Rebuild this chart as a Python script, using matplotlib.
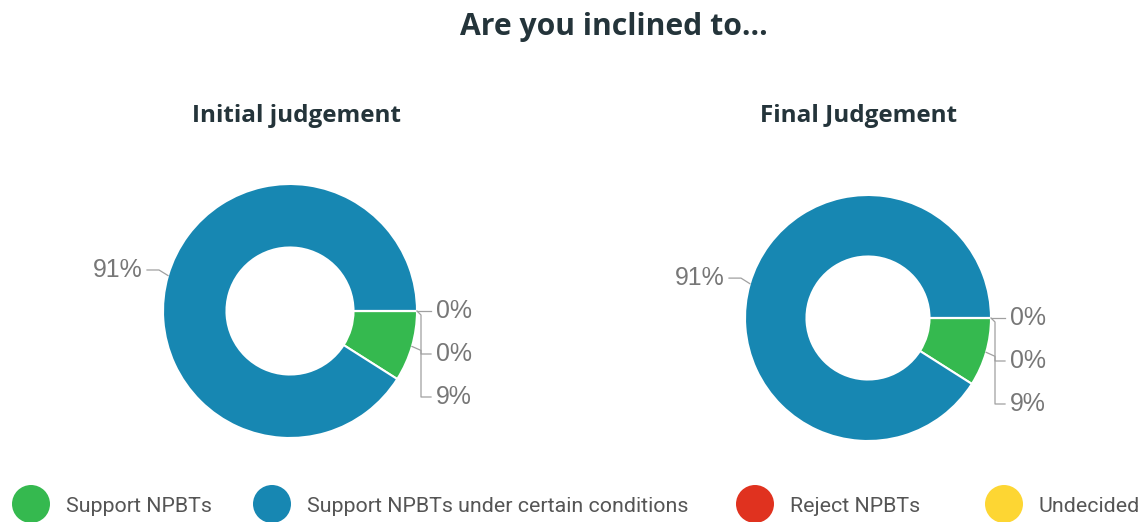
import matplotlib
matplotlib.use("Agg")
import matplotlib.pyplot as plt
from matplotlib.patches import Circle
import numpy as np

# ---- data ----
title = "Are you inclined to..."
categories = ["Support NPBTs", "Support NPBTs under certain conditions", "Reject NPBTs", "Undecided"]
colors = ["#35b94f", "#1787b2", "#e0321f", "#fdd633"]
chart_titles = ["Initial judgement", "Final Judgement"]
initial_values = [9, 91, 0, 0]
final_values = [9, 91, 0, 0]
series = [initial_values, final_values]

# ---- layout (pixel space) ----
W, H = 1140, 522
fig = plt.figure(figsize=(W / 100, H / 100), dpi=100)
ax = fig.add_axes([0, 0, 1, 1])
renderer = fig.canvas.get_renderer()

def Y(py):
    return H - py

def fit(t, target_w):
    bb = t.get_window_extent(renderer=renderer)
    t.set_fontsize(t.get_fontsize() * target_w / bb.width)
    return t.get_fontsize()

centers = [(290, 311), (868, 318)]
radii = [127, 123]
subtitle_x = [297, 859]
title_font = "Open Sans"
label_font = "Liberation Sans"
legend_font = "Roboto"
txt_dark = "#24343a"
lbl_color = "#777777"
line_color = "#a0a0a0"

for vals, (cx, cy), r in zip(series, centers, radii):
    ax.pie(vals, colors=colors, startangle=0, counterclock=False,
           center=(cx, Y(cy)), radius=r,
           wedgeprops=dict(width=r * 0.5, edgecolor="white", linewidth=1.5))

ax.set_xlim(0, W)
ax.set_ylim(0, H)
ax.set_aspect("auto")
ax.axis("off")

t = ax.text(614, Y(27), title, ha="center", va="center", fontsize=20,
            fontweight="bold", family=title_font, color=txt_dark)
fit(t, 308)

sub_fs = None
for st, sx in zip(chart_titles, subtitle_x):
    t = ax.text(sx, Y(116), st, ha="center", va="center", fontsize=15,
                fontweight="bold", family=title_font, color=txt_dark)
    if sub_fs is None:
        sub_fs = fit(t, 209)
    else:
        t.set_fontsize(sub_fs)

# label font size fitted on one label
probe = ax.text(0, 0, "91%", fontsize=14, family=label_font)
lbl_fs = fit(probe, 50)
probe.remove()

for vals, (cx, cy), r in zip(series, centers, radii):
    total = float(sum(vals))
    cum = 0.0
    right, left = [], []
    for v in vals:
        frac = v / total
        theta = np.deg2rad(-(cum + frac / 2) * 360)
        cum += frac
        ax_x = cx + r * np.cos(theta)
        ax_y = cy - r * np.sin(theta)
        ly = cy - (r + 20) * np.sin(theta)
        item = dict(v=v, ax=ax_x, ay=ax_y, ly=ly)
        if np.cos(theta) >= -1e-9:
            right.append(item)
        else:
            left.append(item)
    for side in (right, left):
        side.sort(key=lambda d: d["ly"])
        for i in range(1, len(side)):
            if side[i]["ly"] < side[i - 1]["ly"] + 43:
                side[i]["ly"] = side[i - 1]["ly"] + 43
    for d in right:
        xb = cx + r + 4
        pts_x = [d["ax"], xb, xb, cx + r + 14]
        pts_y = [d["ay"], min(d["ay"] + 4, d["ly"]), d["ly"], d["ly"]]
        ax.plot(pts_x, [Y(p) for p in pts_y], color=line_color, lw=0.9)
        ax.text(cx + r + 19, Y(d["ly"]), f"{d['v']:.0f}%", ha="left", va="center",
                fontsize=lbl_fs, family=label_font, color=lbl_color)
    for d in left:
        xb = cx - r - 4
        pts_x = [d["ax"], xb, cx - r - 16]
        pts_y = [d["ay"], d["ly"], d["ly"]]
        ax.plot(pts_x, [Y(p) for p in pts_y], color=line_color, lw=0.9)
        ax.text(cx - r - 20, Y(d["ly"]), f"{d['v']:.0f}%", ha="right", va="center",
                fontsize=lbl_fs, family=label_font, color=lbl_color)

# ---- legend ----
probe = ax.text(0, 0, categories[1], fontsize=14, family=legend_font)
leg_fs = fit(probe, 384)
probe.remove()
leg_x = [31, 272, 755, 1004]
for cat, col, lx in zip(categories, colors, leg_x):
    ax.add_patch(Circle((lx, Y(504)), 19, color=col, lw=0))
    ax.text(lx + 35, Y(506), cat, ha="left", va="center", fontsize=leg_fs,
            family=legend_font, color="#555555")

ax.set_xlim(0, W)
ax.set_ylim(0, H)
fig.savefig("out.png", dpi=100)
